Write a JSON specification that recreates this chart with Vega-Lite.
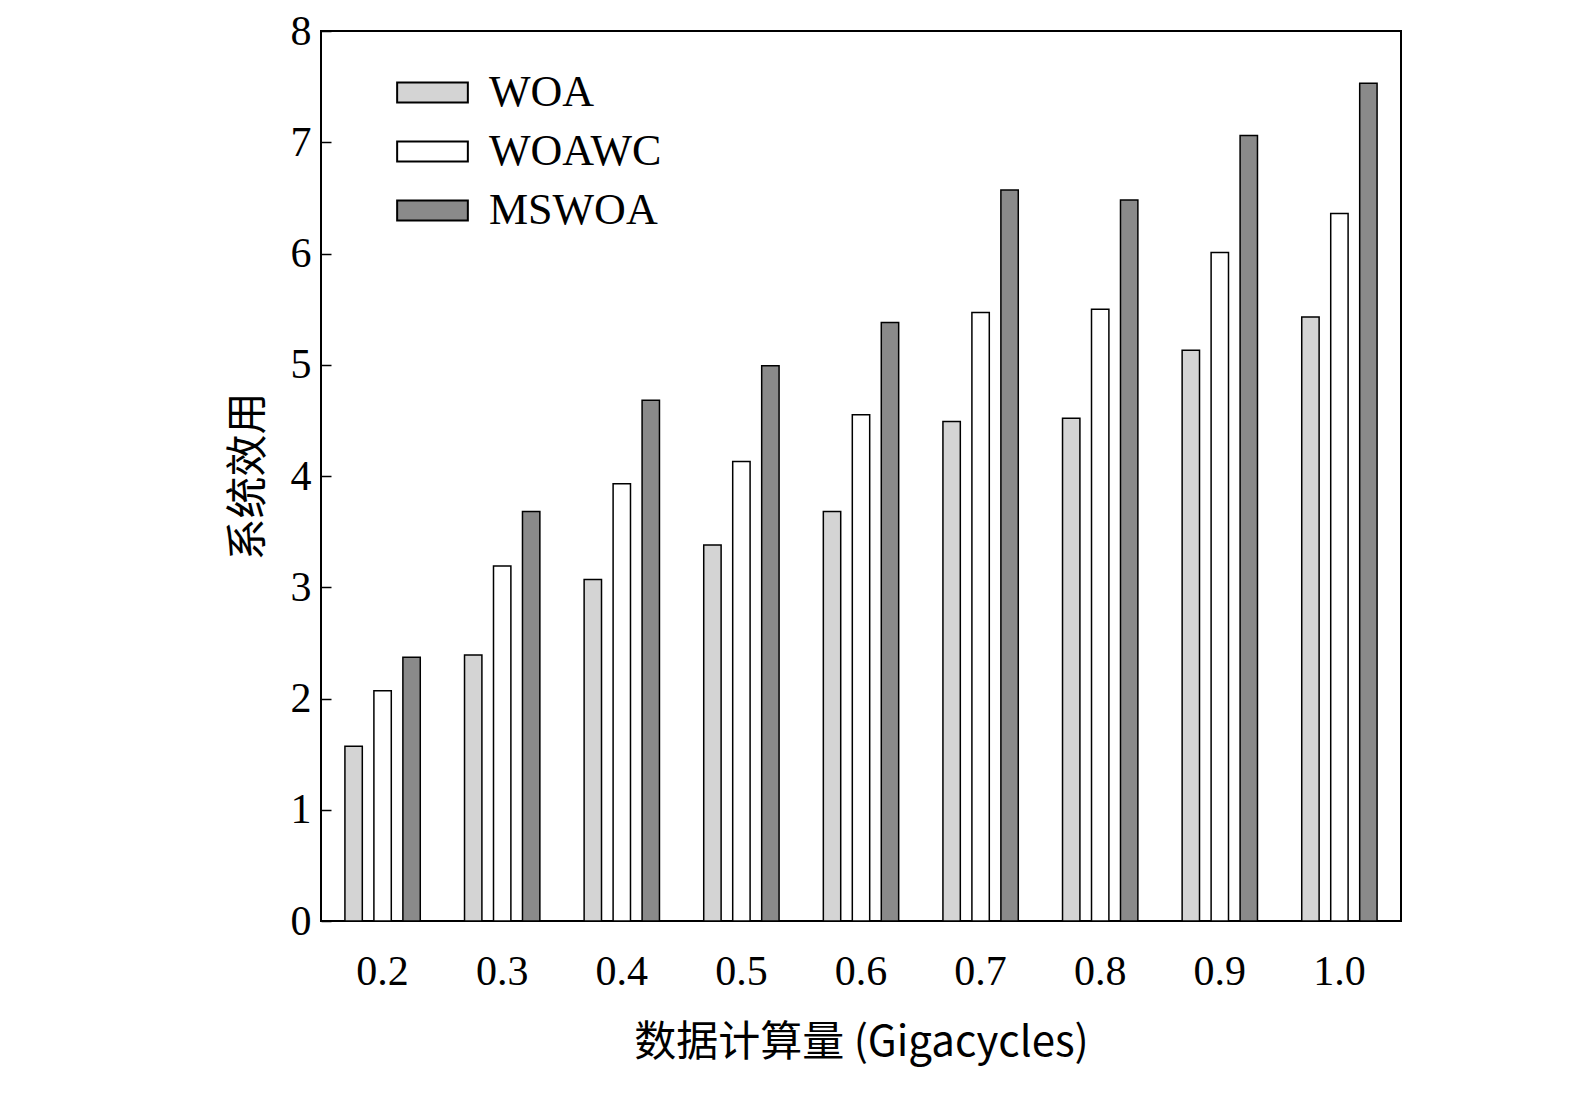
{
  "$schema": "https://vega.github.io/schema/vega-lite/v6.json",
  "width": 1080,
  "height": 890,
  "padding": {"left": 227, "top": 10, "right": 93, "bottom": 10},
  "background": "white",
  "data": {"values": [
    {"x": "0.2", "s": "WOA", "v": 1.57}, {"x": "0.2", "s": "WOAWC", "v": 2.07}, {"x": "0.2", "s": "MSWOA", "v": 2.37},
    {"x": "0.3", "s": "WOA", "v": 2.39}, {"x": "0.3", "s": "WOAWC", "v": 3.19}, {"x": "0.3", "s": "MSWOA", "v": 3.68},
    {"x": "0.4", "s": "WOA", "v": 3.07}, {"x": "0.4", "s": "WOAWC", "v": 3.93}, {"x": "0.4", "s": "MSWOA", "v": 4.68},
    {"x": "0.5", "s": "WOA", "v": 3.38}, {"x": "0.5", "s": "WOAWC", "v": 4.13}, {"x": "0.5", "s": "MSWOA", "v": 4.99},
    {"x": "0.6", "s": "WOA", "v": 3.68}, {"x": "0.6", "s": "WOAWC", "v": 4.55}, {"x": "0.6", "s": "MSWOA", "v": 5.38},
    {"x": "0.7", "s": "WOA", "v": 4.49}, {"x": "0.7", "s": "WOAWC", "v": 5.47}, {"x": "0.7", "s": "MSWOA", "v": 6.57},
    {"x": "0.8", "s": "WOA", "v": 4.52}, {"x": "0.8", "s": "WOAWC", "v": 5.5}, {"x": "0.8", "s": "MSWOA", "v": 6.48},
    {"x": "0.9", "s": "WOA", "v": 5.13}, {"x": "0.9", "s": "WOAWC", "v": 6.01}, {"x": "0.9", "s": "MSWOA", "v": 7.06},
    {"x": "1.0", "s": "WOA", "v": 5.43}, {"x": "1.0", "s": "WOAWC", "v": 6.36}, {"x": "1.0", "s": "MSWOA", "v": 7.53}
  ]},
  "mark": {"type": "bar", "stroke": "black", "strokeWidth": 1.5},
  "encoding": {
    "x": {"field": "x", "type": "ordinal", "title": "数据计算量 (Gigacycles)",
      "scale": {"paddingInner": 0.37, "paddingOuter": 0.2},
      "axis": {"labelAngle": 0, "ticks": false, "domain": false, "labelFontSize": 42, "labelPadding": 30,
        "titleFontSize": 42, "titlePadding": 30, "labelFont": "Liberation Serif", "titleFont": "Noto Sans CJK SC",
        "labelColor": "black", "titleColor": "black", "titleFontWeight": "normal"}},
    "xOffset": {"field": "s", "sort": ["WOA", "WOAWC", "MSWOA"], "scale": {"paddingInner": 0.4}},
    "y": {"field": "v", "type": "quantitative", "title": "系统效用",
      "scale": {"domain": [0, 8]},
      "axis": {"values": [0,1,2,3,4,5,6,7,8], "grid": false, "domain": false, "tickColor": "black", "tickSize": -10,
        "tickWidth": 1.5, "labelFontSize": 42, "labelPadding": 20, "labelFont": "Liberation Serif", "labelColor": "black",
        "titleFontSize": 42, "titleFont": "Noto Sans CJK SC", "titleColor": "black", "titleFontWeight": "normal", "titlePadding": 20}},
    "fill": {"field": "s", "type": "nominal", "sort": ["WOA", "WOAWC", "MSWOA"],
      "scale": {"domain": ["WOA", "WOAWC", "MSWOA"], "range": ["#d4d4d4", "#ffffff", "#8a8a8a"]},
      "legend": {"orient": "none", "legendX": 75, "legendY": 25, "title": null, "labelFontSize": 44,
        "labelFont": "Liberation Serif", "labelColor": "black", "labelLimit": 400, "symbolType": "M-1,-0.28H1V0.28H-1Z", "symbolSize": 5000,
        "symbolStrokeColor": "black", "symbolStrokeWidth": 2, "rowPadding": -6, "labelOffset": 20}}
  },
  "config": {"view": {"stroke": "black", "strokeWidth": 2}}
}
